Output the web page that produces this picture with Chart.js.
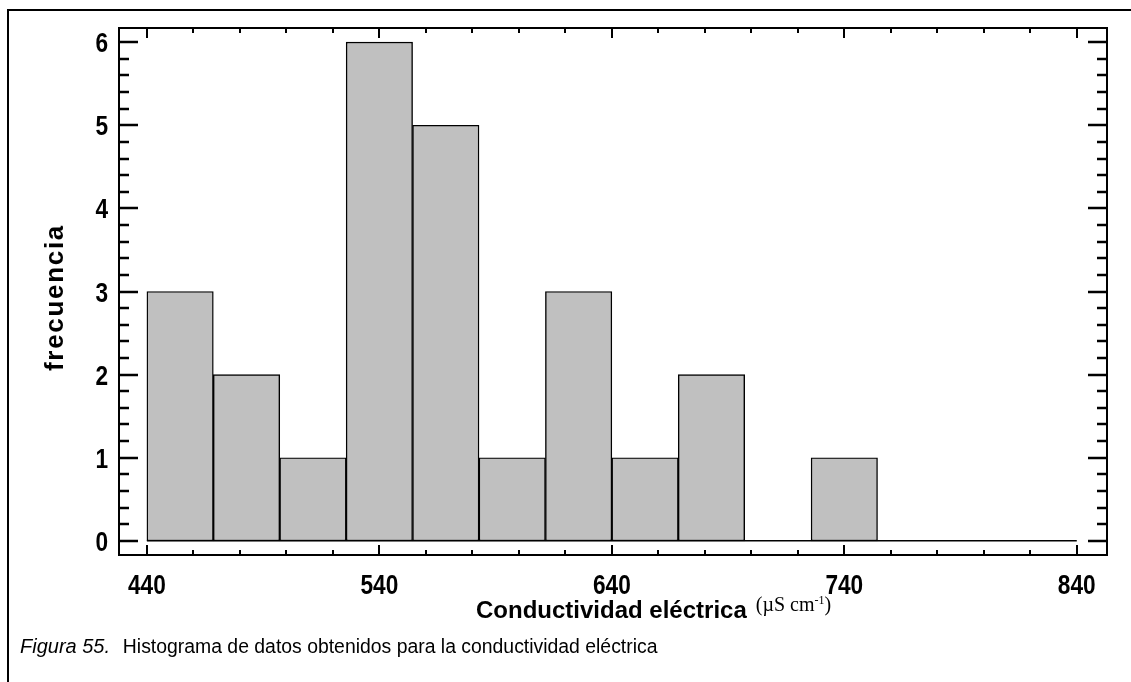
<!DOCTYPE html>
<html>
<head>
<meta charset="utf-8">
<script src="https://cdn.jsdelivr.net/npm/chart.js@4.4.1/dist/chart.umd.min.js"></script>
<style>
  html, body { margin: 0; padding: 0; background: #fff; }
  #wrap { position: relative; width: 1131px; height: 682px; overflow: hidden; }
  #frame { position: absolute; left: 7px; top: 9px; width: 1130px; height: 680px;
           border-top: 2px solid #000; border-left: 2px solid #000; }
  canvas { position: absolute; left: 0; top: 0; }
  #xtitle { position: absolute; left: 476px; top: 596px; white-space: nowrap;
            font: bold 24px "Liberation Sans", Arial, sans-serif; color: #000; }
  #xtitle .unit { font: 20px "Liberation Serif", "Times New Roman", serif; position: relative; top: -7px; margin-left: 9px; }
  #xtitle .unit sup { font-size: 12px; vertical-align: 7px; }
  #caption { position: absolute; left: 20px; top: 635px; white-space: nowrap;
             font: 19.4px "Liberation Sans", Arial, sans-serif; color: #000; }
  #caption i { font-size: 20px; margin-right: 2px; }
</style>
</head>
<body>
<div id="wrap">
  <div id="frame"></div>
  <canvas id="c" width="1131" height="682"></canvas>
  <div id="xtitle">Conductividad eléctrica<span class="unit">(µS cm<sup>-1</sup>)</span></div>
  <div id="caption"><i>Figura 55.</i>&nbsp; Histograma de datos obtenidos para la conductividad eléctrica</div>
</div>
<script>
// Class boundaries (µS cm-1) and counts per class
const binEdges = [440, 468.57, 497.14, 525.71, 554.29, 582.86, 611.43, 640,
                  668.57, 697.14, 725.71, 754.29, 782.86, 811.43, 840];
const frequencies = [3, 2, 1, 6, 5, 1, 3, 1, 2, 0, 1, 0, 0, 0];

// Labelled ticks
const xTickValues = [440, 540, 640, 740, 840];
const yTickValues = [0, 1, 2, 3, 4, 5, 6];
const yAxisTitle = 'frecuencia';

// Minor tick spacing on each axis
const xMinorStep = 20;
const yMinorStep = 0.2;

const sansFamily = '"Liberation Sans", Arial, sans-serif';

const points = frequencies.map((f, i) => ({ x: (binEdges[i] + binEdges[i + 1]) / 2, y: f }));

// Plot frame, inward ticks on all four sides, histogram baseline,
// narrow bold tick labels and the letter-spaced y title
const frameTicks = {
  id: 'frameTicks',
  afterDatasetsDraw(chart) {
    const { ctx, chartArea: a, scales: { x, y } } = chart;
    ctx.save();
    ctx.strokeStyle = '#000';
    ctx.fillStyle = '#000';

    ctx.lineWidth = 1.5;
    const y0 = y.getPixelForValue(0);
    ctx.beginPath();
    ctx.moveTo(x.getPixelForValue(binEdges[0]), y0);
    ctx.lineTo(x.getPixelForValue(binEdges[binEdges.length - 1]), y0);
    ctx.stroke();

    ctx.lineWidth = 2.5;
    const yMin = yTickValues[0], yMax = yTickValues[yTickValues.length - 1];
    const nY = Math.round((yMax - yMin) / yMinorStep);
    for (let k = 0; k <= nY; k++) {
      const v = yMin + k * yMinorStep;
      const py = Math.round(y.getPixelForValue(v));
      const len = (k % 5 === 0) ? 19 : 10;
      ctx.beginPath();
      ctx.moveTo(a.left, py); ctx.lineTo(a.left + len, py);
      ctx.moveTo(a.right, py); ctx.lineTo(a.right - len, py);
      ctx.stroke();
    }

    ctx.lineWidth = 2;
    const xMin = xTickValues[0], xMax = xTickValues[xTickValues.length - 1];
    const nX = Math.round((xMax - xMin) / xMinorStep);
    for (let k = 0; k <= nX; k++) {
      const v = xMin + k * xMinorStep;
      const px = Math.round(x.getPixelForValue(v));
      const len = (k % 5 === 0) ? 10 : 5;
      ctx.beginPath();
      ctx.moveTo(px, a.bottom); ctx.lineTo(px, a.bottom - len);
      ctx.moveTo(px, a.top); ctx.lineTo(px, a.top + len);
      ctx.stroke();
    }

    ctx.lineWidth = 2;
    ctx.strokeRect(a.left, a.top, a.right - a.left, a.bottom - a.top);

    // tick labels, horizontally condensed
    ctx.font = 'bold 28px ' + sansFamily;
    ctx.textBaseline = 'alphabetic';
    const squeeze = 0.81;
    ctx.textAlign = 'center';
    for (const v of xTickValues) {
      ctx.save();
      ctx.translate(x.getPixelForValue(v), a.bottom + 39);
      ctx.scale(squeeze, 1);
      ctx.fillText(String(v), 0, 0);
      ctx.restore();
    }
    ctx.textAlign = 'right';
    for (const v of yTickValues) {
      ctx.save();
      ctx.translate(a.left - 11, y.getPixelForValue(v) + 10);
      ctx.scale(squeeze, 1);
      ctx.fillText(String(v), 0, 0);
      ctx.restore();
    }

    // y axis title
    ctx.save();
    ctx.font = 'bold 26px ' + sansFamily;
    ctx.letterSpacing = '1.7px';
    ctx.textAlign = 'center';
    ctx.translate(63, (a.top + a.bottom) / 2 + 6);
    ctx.rotate(-Math.PI / 2);
    ctx.fillText(yAxisTitle, 0, 0);
    ctx.restore();

    ctx.restore();
  }
};

new Chart(document.getElementById('c'), {
  type: 'bar',
  data: {
    datasets: [{
      data: points,
      backgroundColor: '#c0c0c0',
      borderColor: '#000',
      borderWidth: 1.4,
      borderSkipped: false,
      barPercentage: 1,
      categoryPercentage: 1,
      grouped: false
    }]
  },
  options: {
    responsive: false,
    animation: false,
    devicePixelRatio: 1,
    layout: { padding: { left: 0, top: 28, right: 24, bottom: 0 } },
    plugins: { legend: { display: false }, tooltip: { enabled: false } },
    scales: {
      x: {
        type: 'linear',
        offset: false,
        min: 428,
        max: 853,
        grid: { display: false, drawTicks: false },
        border: { display: false },
        afterBuildTicks: s => { s.ticks = xTickValues.map(v => ({ value: v })); },
        afterFit: s => { s.height = 127; },
        ticks: { display: false }
      },
      y: {
        min: -0.17,
        max: 6.17,
        grid: { display: false, drawTicks: false },
        border: { display: false },
        afterBuildTicks: s => { s.ticks = yTickValues.map(v => ({ value: v })); },
        afterFit: s => { s.width = 119; },
        ticks: { display: false }
      }
    }
  },
  plugins: [frameTicks]
});
</script>
</body>
</html>
